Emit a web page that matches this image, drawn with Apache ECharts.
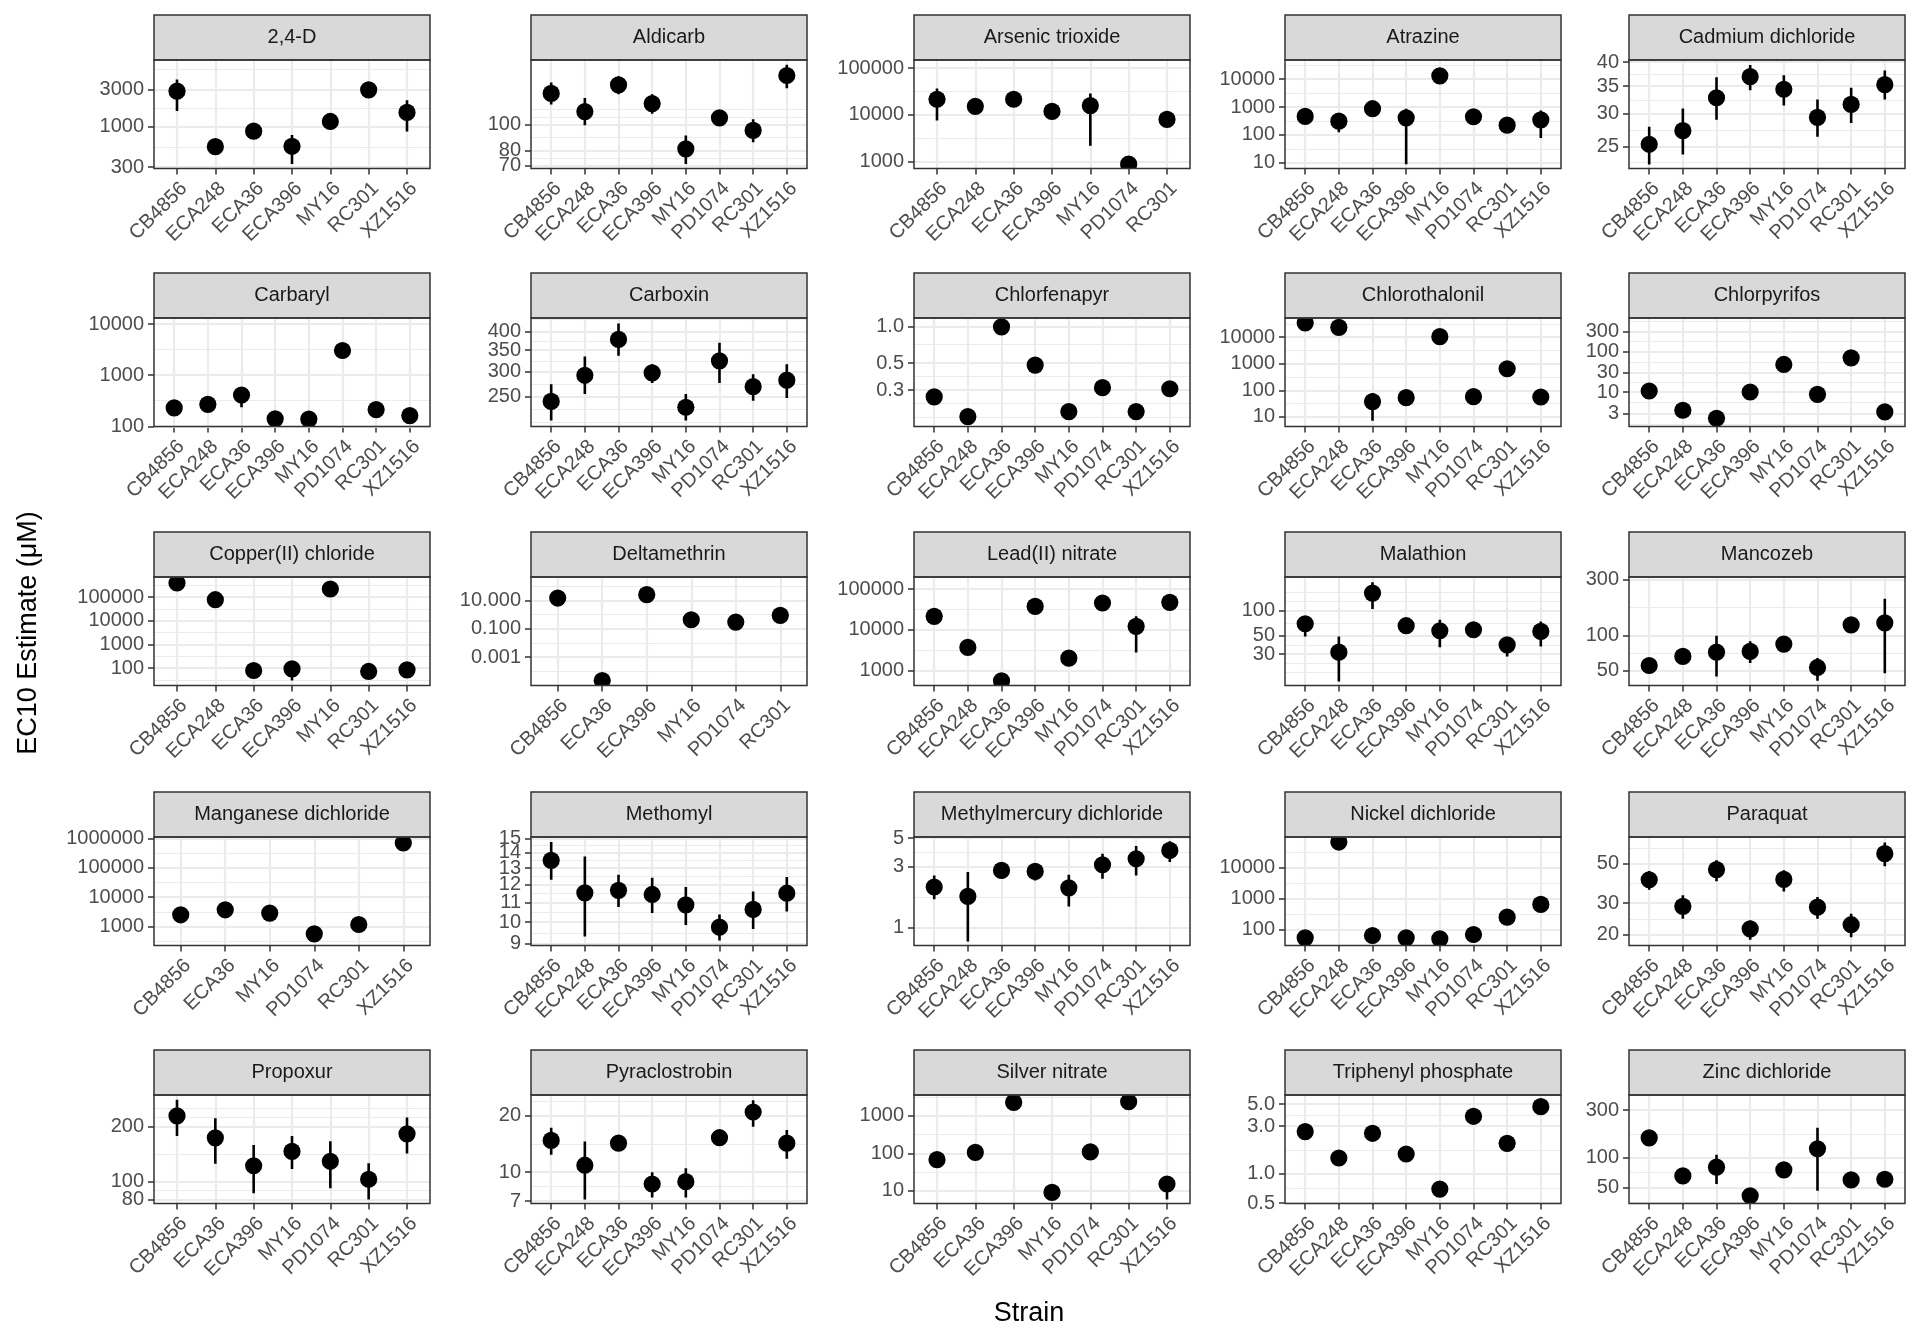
<!DOCTYPE html>
<html>
<head>
<meta charset="utf-8">
<title>EC10 estimates by strain</title>
<script src="https://cdn.jsdelivr.net/npm/echarts@6/dist/echarts.min.js"></script>
<style>
  html, body { margin: 0; padding: 0; background: #ffffff; }
  #chart { width: 1920px; height: 1344px; }
</style>
</head>
<body>
<div id="chart"></div>
<script>
// toxicant facets, in panel order (5 x 5)
const toxicants = [
  '2,4-D', 'Aldicarb', 'Arsenic trioxide', 'Atrazine', 'Cadmium dichloride',
  'Carbaryl', 'Carboxin', 'Chlorfenapyr', 'Chlorothalonil', 'Chlorpyrifos',
  'Copper(II) chloride', 'Deltamethrin', 'Lead(II) nitrate', 'Malathion', 'Mancozeb',
  'Manganese dichloride', 'Methomyl', 'Methylmercury dichloride', 'Nickel dichloride', 'Paraquat',
  'Propoxur', 'Pyraclostrobin', 'Silver nitrate', 'Triphenyl phosphate', 'Zinc dichloride'
]

const allStrains = ['CB4856', 'ECA248', 'ECA36', 'ECA396', 'MY16', 'PD1074', 'RC301', 'XZ1516']
const noPD1074 = ['CB4856', 'ECA248', 'ECA36', 'ECA396', 'MY16', 'RC301', 'XZ1516']

// strains present in each facet (free x scales)
const strains = [
  noPD1074, allStrains, ['CB4856', 'ECA248', 'ECA36', 'ECA396', 'MY16', 'PD1074', 'RC301'], allStrains, allStrains,
  allStrains, allStrains, allStrains, allStrains, allStrains,
  noPD1074, ['CB4856', 'ECA36', 'ECA396', 'MY16', 'PD1074', 'RC301'], allStrains, allStrains, allStrains,
  ['CB4856', 'ECA36', 'MY16', 'PD1074', 'RC301', 'XZ1516'], allStrains, allStrains, allStrains, allStrains,
  ['CB4856', 'ECA36', 'ECA396', 'MY16', 'PD1074', 'RC301', 'XZ1516'], allStrains,
  ['CB4856', 'ECA36', 'ECA396', 'MY16', 'PD1074', 'RC301', 'XZ1516'], allStrains, allStrains
]

// EC10 estimates (uM)
const ec10 = [
  [2840, 551, 870, 557, 1160, 2950, 1517],
  [131, 112, 141, 120, 81.1, 106, 95.1, 153],
  [21500, 15150, 21500, 11800, 15700, 868, 7930],
  [460, 312, 871, 411, 13200, 448, 224, 348],
  [25.3, 27.3, 32.8, 36.9, 34.4, 29.4, 31.6, 35.3],
  [229, 269, 409, 140, 138, 3050, 212, 162],
  [242, 292, 378, 297, 232, 324, 269, 282],
  [0.264, 0.182, 0.99, 0.481, 0.2, 0.314, 0.2, 0.308],
  [34500, 23700, 37.6, 53.1, 10500, 57.9, 649, 56.2],
  [10.6, 3.56, 2.26, 10, 47.6, 8.77, 69.3, 3.24],
  [390000, 77100, 79.6, 93.7, 218000, 72.3, 85],
  [14.6, 0.0000225, 25.1, 0.431, 0.296, 0.873],
  [21300, 3680, 557, 37500, 2010, 45300, 12100, 47000],
  [69.2, 31.6, 161, 65.5, 57, 58.6, 38.7, 56],
  [55.3, 66.1, 71.9, 73, 84.3, 53.2, 123, 128],
  [2510, 3720, 2860, 561, 1170, 710000],
  [13.5, 11.53, 11.67, 11.44, 10.88, 9.76, 10.64, 11.51],
  [2.07, 1.75, 2.79, 2.74, 2.04, 3.09, 3.44, 4.0],
  [53.7, 67900, 63.9, 53.7, 49.8, 68.8, 251, 647],
  [40.6, 28.8, 46.3, 21.5, 40.8, 28.5, 22.7, 56.9],
  [228, 173, 122, 146, 129, 103, 182],
  [14.8, 10.9, 14.3, 8.65, 8.9, 15.3, 21, 14.3],
  [67.5, 106, 2290, 9.02, 109, 2390, 15.1],
  [2.64, 1.43, 2.54, 1.57, 0.695, 3.77, 2.01, 4.71],
  [158, 65.7, 80.4, 41.5, 75.6, 123, 59.8, 60.8]
]

// lower end of the interval
const ciLow = [
  [1580, 500, 800, 329, 1060, 2700, 861],
  [119, 99.4, 130, 110, 71.1, 101, 85.9, 137],
  [7540, 13500, 19000, 10500, 2170, 780, 7100],
  [400, 125, 760, 8.95, 11500, 390, 195, 78],
  [22.6, 23.9, 29.0, 34.2, 31.4, 26.4, 28.5, 32.5],
  [210, 245, 235, 128, 126, 2800, 195, 148],
  [211, 255, 336, 276, 211, 276, 243, 248],
  [0.25, 0.172, 0.94, 0.456, 0.19, 0.298, 0.19, 0.292],
  [31000, 21500, 7.08, 47, 9400, 51, 580, 50],
  [9.8, 3.3, 2.1, 9.3, 44, 8.1, 64, 3.0],
  [340000, 68000, 70, 30, 192000, 64, 75],
  [8, 0.000012, 14, 0.25, 0.17, 0.5],
  [19000, 3300, 500, 33500, 1800, 40500, 2770, 42000],
  [48.8, 14.1, 104, 58, 36.3, 52, 28, 37],
  [50, 60, 44.6, 58, 77, 40.9, 112, 47.5],
  [2200, 3250, 2500, 490, 1020, 620000],
  [12.29, 9.33, 10.76, 10.46, 9.87, 9.15, 9.68, 10.53],
  [1.66, 0.777, 2.62, 2.33, 1.46, 2.40, 2.55, 3.24],
  [48, 60000, 57, 48, 44.5, 61, 225, 580],
  [35.7, 24.5, 39.8, 18.7, 34.9, 24.5, 19.3, 48.3],
  [177, 125, 86.3, 117, 91.9, 79.9, 142],
  [12.4, 7.14, 13.6, 7.33, 7.33, 14.5, 17.5, 11.8],
  [61, 96, 2080, 8.2, 99, 2170, 5.8],
  [2.5, 1.36, 2.41, 1.49, 0.66, 3.58, 1.91, 4.47],
  [147, 61, 54.5, 38.5, 70, 46.6, 55.5, 56.5]
]

// upper end of the interval
const ciHigh = [
  [4010, 610, 950, 780, 1270, 3200, 2170],
  [144, 126, 152, 130, 91.1, 111, 104.8, 168],
  [36500, 17000, 24300, 13300, 28500, 960, 8900],
  [530, 420, 1000, 871, 15200, 515, 258, 759],
  [27.9, 30.9, 36.8, 39.4, 37.2, 32.5, 34.7, 38.2],
  [250, 295, 450, 153, 151, 3330, 232, 177],
  [274, 334, 424, 316, 255, 369, 294, 316],
  [0.278, 0.191, 1.04, 0.505, 0.21, 0.33, 0.21, 0.324],
  [38500, 26000, 80, 60, 11700, 65, 720, 63],
  [11.5, 3.85, 2.45, 10.8, 51.5, 9.5, 75, 3.5],
  [450000, 87000, 90, 110, 247000, 82, 96],
  [26, 0.000042, 45, 0.74, 0.51, 1.5],
  [24000, 4100, 620, 42000, 2250, 50500, 21300, 52500],
  [84.7, 48.8, 217, 74, 77.3, 66, 45, 73.8],
  [61, 72, 99.4, 89, 93, 64, 135, 206],
  [2860, 4240, 3260, 640, 1330, 810000],
  [14.76, 13.76, 12.59, 12.41, 11.86, 10.38, 11.61, 12.45],
  [2.55, 2.71, 2.98, 3.15, 2.58, 3.77, 4.33, 4.71],
  [60, 76800, 71.5, 60, 55.8, 77, 280, 720],
  [45.5, 33.2, 52.2, 24, 45.9, 32.5, 26.2, 65.7],
  [279, 221, 158, 177, 166, 126, 223],
  [17.3, 14.6, 15.1, 10, 10.5, 16.2, 24.3, 16.8],
  [75, 117, 2520, 9.9, 120, 2630, 17],
  [2.79, 1.51, 2.68, 1.66, 0.73, 3.98, 2.12, 4.96],
  [170, 71, 107, 45, 82, 200, 64.5, 65.5]
]

// y scale limits of each facet (log10 axes, free scales)
const yMin = [289, 68.4, 700, 6.24, 22.1, 99, 202, 0.151, 4.34, 1.42,
  18.5, 0.00001, 428, 12.6, 37.3, 224, 8.93, 0.723, 30.3, 17.35,
  76, 6.8, 4.55, 0.497, 34.7]
const yMax = [7130, 175, 150000, 48700, 40.5, 13200, 441, 1.17, 53100, 661,
  700000, 444, 197000, 251, 316, 1140000, 15.12, 5.09, 98800, 70.6,
  296, 25.9, 3620, 6.18, 426]

// y tick values and their labels
const yTicks = [
  [300, 1000, 3000], [70, 80, 100], [1000, 10000, 100000], [10, 100, 1000, 10000], [25, 30, 35, 40],
  [100, 1000, 10000], [250, 300, 350, 400], [0.3, 0.5, 1], [10, 100, 1000, 10000], [3, 10, 30, 100, 300],
  [100, 1000, 10000, 100000], [0.001, 0.1, 10], [1000, 10000, 100000], [30, 50, 100], [50, 100, 300],
  [1000, 10000, 100000, 1000000], [9, 10, 11, 12, 13, 14, 15], [1, 3, 5], [100, 1000, 10000], [20, 30, 50],
  [80, 100, 200], [7, 10, 20], [10, 100, 1000], [0.5, 1, 3, 5], [50, 100, 300]
]
const yLabels = [
  ['300', '1000', '3000'], ['70', '80', '100'], ['1000', '10000', '100000'], ['10', '100', '1000', '10000'], ['25', '30', '35', '40'],
  ['100', '1000', '10000'], ['250', '300', '350', '400'], ['0.3', '0.5', '1.0'], ['10', '100', '1000', '10000'], ['3', '10', '30', '100', '300'],
  ['100', '1000', '10000', '100000'], ['0.001', '0.100', '10.000'], ['1000', '10000', '100000'], ['30', '50', '100'], ['50', '100', '300'],
  ['1000', '10000', '100000', '1000000'], ['9', '10', '11', '12', '13', '14', '15'], ['1', '3', '5'], ['100', '1000', '10000'], ['20', '30', '50'],
  ['80', '100', '200'], ['7', '10', '20'], ['10', '100', '1000'], ['0.5', '1.0', '3.0', '5.0'], ['50', '100', '300']
]

// ---- layout ----
const colLeft = [154, 531, 914, 1285, 1629]
const rowTop = [60, 318, 577, 837, 1095]
const panelW = 276
const panelH = 108.5
const stripH = 45
const FONT = '"Liberation Sans", Arial, Helvetica, sans-serif'
const GRID_COL = '#EBEBEB'
const DARK = '#333333'

// ggplot-style minor breaks: midpoints of the (log) major breaks, extended by one step
const minorBreaks = (ticks, lo, hi) => {
  const b = ticks.map(Math.log10)
  const bd = b[1] - b[0]
  if (Math.log10(lo) < b[0]) b.unshift(b[0] - bd)
  if (Math.log10(hi) > b[b.length - 1]) b.push(b[b.length - 1] + bd)
  const out = []
  for (let k = 0; k < b.length - 1; k++) out.push(b[k], (b[k] + b[k + 1]) / 2)
  out.push(b[b.length - 1])
  return out.map(v => Math.pow(10, v)).filter(v => v >= lo && v <= hi)
}

const nearestLabel = (ticks, labels, v) => {
  let best = 0
  ticks.forEach((t, k) => {
    if (Math.abs(Math.log10(t / v)) < Math.abs(Math.log10(ticks[best] / v))) best = k
  })
  return labels[best]
}

const yLabelStyle = {
  margin: 10,
  showMinLabel: true,
  showMaxLabel: true,
  hideOverlap: false,
  color: '#4D4D4D',
  fontSize: 20,
  fontFamily: FONT
}

const grids = []
const xAxes = []
const yAxes = []
const series = []
const graphics = []

toxicants.forEach((name, i) => {
  const left = colLeft[i % 5]
  const top = rowTop[Math.floor(i / 5)]
  const n = strains[i].length
  const pos = strains[i].map((s, k) => k + 1)
  // labels are split over two axes so that crowded ones are all kept, as in the original
  const evenTicks = yTicks[i].filter((t, k) => k % 2 === 0)
  const oddTicks = yTicks[i].filter((t, k) => k % 2 === 1)

  grids.push({ left, top, width: panelW, height: panelH, show: false, outerBoundsMode: 'none' })

  xAxes.push({
    gridIndex: i,
    type: 'value',
    min: 0.4,
    max: n + 0.6,
    axisLine: { show: false },
    axisTick: { show: true, customValues: pos, length: 6, lineStyle: { color: DARK, width: 1.5 } },
    axisLabel: {
      customValues: pos,
      formatter: v => strains[i][Math.round(v) - 1] || '',
      rotate: 45,
      align: 'right',
      verticalAlign: 'top',
      margin: 10,
      showMinLabel: true,
      showMaxLabel: true,
      hideOverlap: false,
      color: '#4D4D4D',
      fontSize: 20,
      fontFamily: FONT
    },
    splitLine: { show: true, lineStyle: { color: GRID_COL, width: 2.2 } }
  })

  // major axis: ticks, labels, major grid
  yAxes.push({
    gridIndex: i,
    type: 'log',
    logBase: 10,
    position: 'left',
    min: yMin[i],
    max: yMax[i],
    axisLine: { show: false },
    axisTick: { show: true, customValues: yTicks[i], length: 6, lineStyle: { color: DARK, width: 1.5 } },
    axisLabel: Object.assign({
      customValues: evenTicks,
      formatter: v => nearestLabel(yTicks[i], yLabels[i], v)
    }, yLabelStyle),
    splitLine: { show: true, lineStyle: { color: GRID_COL, width: 2.2 } },
    z: 1
  })
  // minor axis: thin grid lines, plus the remaining labels
  yAxes.push({
    gridIndex: i,
    type: 'log',
    logBase: 10,
    position: 'left',
    min: yMin[i],
    max: yMax[i],
    axisLine: { show: false },
    axisTick: { show: false, customValues: minorBreaks(yTicks[i], yMin[i], yMax[i]) },
    axisLabel: Object.assign({
      show: oddTicks.length > 0,
      customValues: oddTicks.length ? oddTicks : evenTicks,
      formatter: v => nearestLabel(yTicks[i], yLabels[i], v)
    }, yLabelStyle),
    splitLine: { show: true, lineStyle: { color: GRID_COL, width: 1.1 } },
    z: 0
  })

  series.push({
    name,
    type: 'custom',
    xAxisIndex: i,
    yAxisIndex: 2 * i,
    clip: true,
    data: ec10[i].map((v, k) => [k + 1, v, ciLow[i][k], ciHigh[i][k]]),
    encode: { x: 0, y: 1 },
    renderItem: (params, api) => {
      const x = api.value(0)
      const c = api.coord([x, api.value(1)])
      const lo = api.coord([x, api.value(2)])
      const hi = api.coord([x, api.value(3)])
      return {
        type: 'group',
        children: [
          { type: 'line', shape: { x1: c[0], y1: lo[1], x2: c[0], y2: hi[1] }, style: { stroke: '#000', lineWidth: 2.6 } },
          { type: 'circle', shape: { cx: c[0], cy: c[1], r: 8.6 }, style: { fill: '#000' } }
        ]
      }
    }
  })

  // facet strip
  graphics.push({
    type: 'rect',
    z: 50,
    shape: { x: left, y: top - stripH, width: panelW, height: stripH },
    style: { fill: '#D9D9D9', stroke: DARK, lineWidth: 1.5 }
  })
  graphics.push({
    type: 'text',
    z: 51,
    x: left + panelW / 2,
    y: top - stripH / 2,
    style: { text: name, align: 'center', verticalAlign: 'middle', fontSize: 20, fontFamily: FONT, fill: '#1A1A1A' }
  })
  // panel border on top of the marks
  graphics.push({
    type: 'rect',
    z: 50,
    shape: { x: left, y: top, width: panelW, height: panelH },
    style: { fill: null, stroke: DARK, lineWidth: 1.5 }
  })
})

graphics.push({
  type: 'text',
  z: 51,
  x: 1029,
  y: 1314,
  style: { text: 'Strain', align: 'center', verticalAlign: 'middle', fontSize: 27, fontFamily: FONT, fill: '#000' }
})
graphics.push({
  type: 'text',
  z: 51,
  x: 29,
  y: 633,
  rotation: Math.PI / 2,
  style: { text: 'EC10 Estimate (μM)', align: 'center', verticalAlign: 'middle', fontSize: 27, fontFamily: FONT, fill: '#000' }
})

const chart = echarts.init(document.getElementById('chart'), null, { renderer: 'canvas' })
chart.setOption({
  animation: false,
  backgroundColor: '#ffffff',
  grid: grids,
  xAxis: xAxes,
  yAxis: yAxes,
  series,
  graphic: graphics
})
</script>
</body>
</html>
